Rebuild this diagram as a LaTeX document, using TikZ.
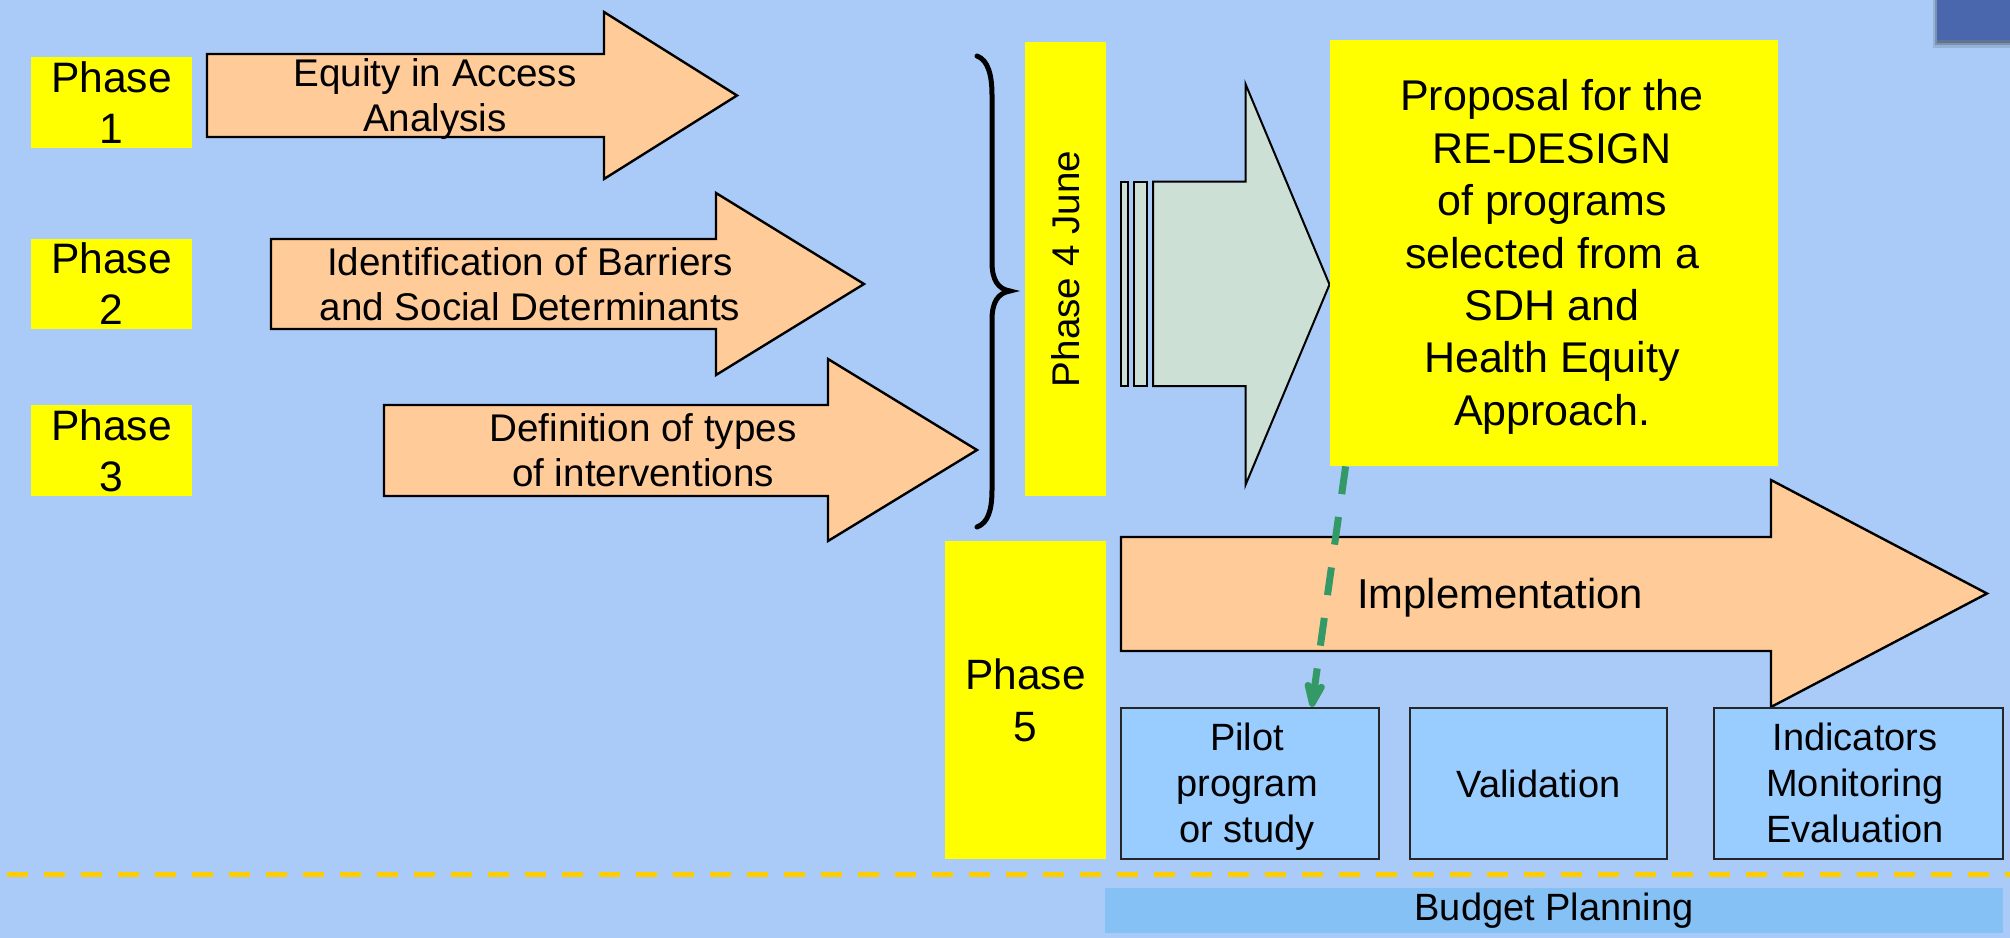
\documentclass[tikz,border=0pt]{standalone}
\usepackage{fontspec}
\setmainfont{Liberation Sans}
\usetikzlibrary{arrows.meta}
\definecolor{bgblue}{RGB}{170,203,247}
\definecolor{phaseyellow}{RGB}{255,255,0}
\definecolor{arroworange}{RGB}{255,204,153}
\definecolor{arrowgray}{RGB}{204,224,214}
\definecolor{boxblue}{RGB}{153,204,255}
\definecolor{budgetblue}{RGB}{133,193,245}
\definecolor{dashyellow}{RGB}{255,204,0}
\definecolor{arrowgreen}{RGB}{51,153,102}
\definecolor{cornerblue}{RGB}{74,102,172}
\begin{document}
\begin{tikzpicture}[x=0.5pt,y=-0.5pt,
  phasebox/.style={fill=phaseyellow, draw=none, inner sep=0pt, align=center,
    font=\fontsize{21.3}{25.5}\selectfont},
  arrowshape/.style={fill=arroworange, draw=black, line width=1.2pt, line join=miter},
  grayshape/.style={fill=arrowgray, draw=black, line width=1pt, line join=miter},
  arrowtext/.style={inner sep=0pt, align=center, font=\fontsize{19.3}{22.7}\selectfont},
  stagebox/.style={fill=boxblue, draw=black!85, line width=1.2pt, inner sep=0pt, align=center,
    minimum height=75.5pt, font=\fontsize{19}{23}\selectfont},
  ydash/.style={draw=dashyellow, line width=2.5pt, dash pattern=on 10.5pt off 8pt, dash phase=15pt},
  greenarrow/.style={draw=arrowgreen, line width=3.5pt, dash pattern=on 14pt off 11.5pt,
    -{Stealth[length=17pt, width=13pt, inset=4pt, round]}},
  bracestyle/.style={draw=black, line width=2.5pt, line cap=round}
]
% background
\fill[bgblue] (0,0) rectangle (2010,938);
\useasboundingbox (0,0) rectangle (2010,938);

% corner rectangle with shadow
\fill[black, opacity=0.12] (1933,0) rectangle (2010,48);
\fill[black, opacity=0.18] (1935,0) rectangle (2010,45);
\fill[black, opacity=0.2] (1937,0) rectangle (2010,43);
\fill[cornerblue] (1937,0) rectangle (2010,40);

% phase boxes 1-3
\node[phasebox, minimum width=80.5pt, minimum height=45.25pt] (ph1) at (111.5,102.25) {Phase\\1};
\node[phasebox, minimum width=80.5pt, minimum height=45pt] (ph2) at (111.5,284) {Phase\\2};
\node[phasebox, minimum width=80.5pt, minimum height=45.5pt] (ph3) at (111.5,450.5) {Phase\\3};

% orange arrows
\draw[arrowshape] (207,54) -- (604,54) -- (604,12) -- (737,95.5) -- (604,179) -- (604,137) -- (207,137) -- cycle;
\node[arrowtext] (a1) at (435,99) {Equity in Access\\Analysis};
\draw[arrowshape] (271,239) -- (716,239) -- (716,193) -- (864,284) -- (716,375) -- (716,329) -- (271,329) -- cycle;
\node[arrowtext] (a2) at (530,284) {Identification of Barriers\\and Social Determinants};
\draw[arrowshape] (384,405) -- (828,405) -- (828,359) -- (977,450) -- (828,541) -- (828,496) -- (384,496) -- cycle;
\node[arrowtext] (a3) at (643,450) {Definition of types\\of interventions};

% brace
\draw[bracestyle] (977,56) .. controls (988,60) and (992,75) .. (992,95) -- (992,262)
  .. controls (992,280) and (998,289) .. (1010,291)
  .. controls (998,293) and (992,302) .. (992,320) -- (992,490)
  .. controls (992,510) and (988,523) .. (977,527);

% phase 4
\node[phasebox, minimum width=40.5pt, minimum height=227pt] (ph4) at (1065.5,269) {};
\node[rotate=90, inner sep=0pt, font=\fontsize{19.3}{23}\selectfont] (ph4t) at (ph4.center) {Phase 4 June};

% gray striped arrow
\draw[grayshape] (1120.7,181.7) rectangle (1127.7,386);
\draw[grayshape] (1134,181.7) rectangle (1147,386);
\draw[grayshape] (1153,181.7) -- (1245.5,181.7) -- (1245.5,84) -- (1329.5,284.5) -- (1245.5,485) -- (1245.5,386) -- (1153,386) -- cycle;

% proposal box
\node[phasebox, minimum width=224pt, minimum height=213pt, font=\fontsize{21.5}{26.2}\selectfont] (prop) at (1554,253) {};
\node[inner sep=0pt, align=center, font=\fontsize{21.5}{26.2}\selectfont] (propt) at (1552,257)
  {Proposal for the\\RE-DESIGN\\of programs\\selected from a\\SDH and\\Health Equity\\Approach.};

% phase 5
\node[phasebox, minimum width=80.5pt, minimum height=159pt, font=\fontsize{21.2}{26}\selectfont] (ph5) at (1025.5,700) {Phase\\5};

% implementation arrow
\draw[arrowshape] (1121,537) -- (1771,537) -- (1771,480) -- (1987,593.5) -- (1771,707) -- (1771,651) -- (1121,651) -- cycle;
\node[inner sep=0pt, font=\fontsize{20.9}{25}\selectfont] (impl) at (1500,597.5) {Implementation};

% stage boxes
\node[stagebox, minimum width=129pt] (pilot) at (1250,783.5) {};
\node[inner sep=0pt, align=center, font=\fontsize{19}{23}\selectfont] (pilott) at (1247,786.5) {Pilot\\program\\or study};
\node[stagebox, minimum width=128.5pt] (valid) at (1538.5,783.5) {Validation};
\node[stagebox, minimum width=144.5pt] (indic) at (1858.5,783.5) {};
\node[inner sep=0pt, align=center, font=\fontsize{19}{23}\selectfont] (indict) at (1855,782.5) {Indicators\\Monitoring\\Evaluation};

% dashed separator
\coordinate (dl) at (0,874);
\coordinate (dr) at (2010,874);
\draw[ydash] (dl) -- (dr);

% budget planning
\node[fill=budgetblue, inner sep=0pt, minimum width=449pt, minimum height=22.5pt,
  font=\fontsize{19}{23}\selectfont] (budget) at (1554,910.5) {Budget Planning};

% green dashed arrow
\path (prop.south west) ++(16,0) coordinate (gs);
\path (pilot.north west) ++(192,0) coordinate (ge);
\draw[greenarrow] (gs) -- (ge);
\end{tikzpicture}
\end{document}
